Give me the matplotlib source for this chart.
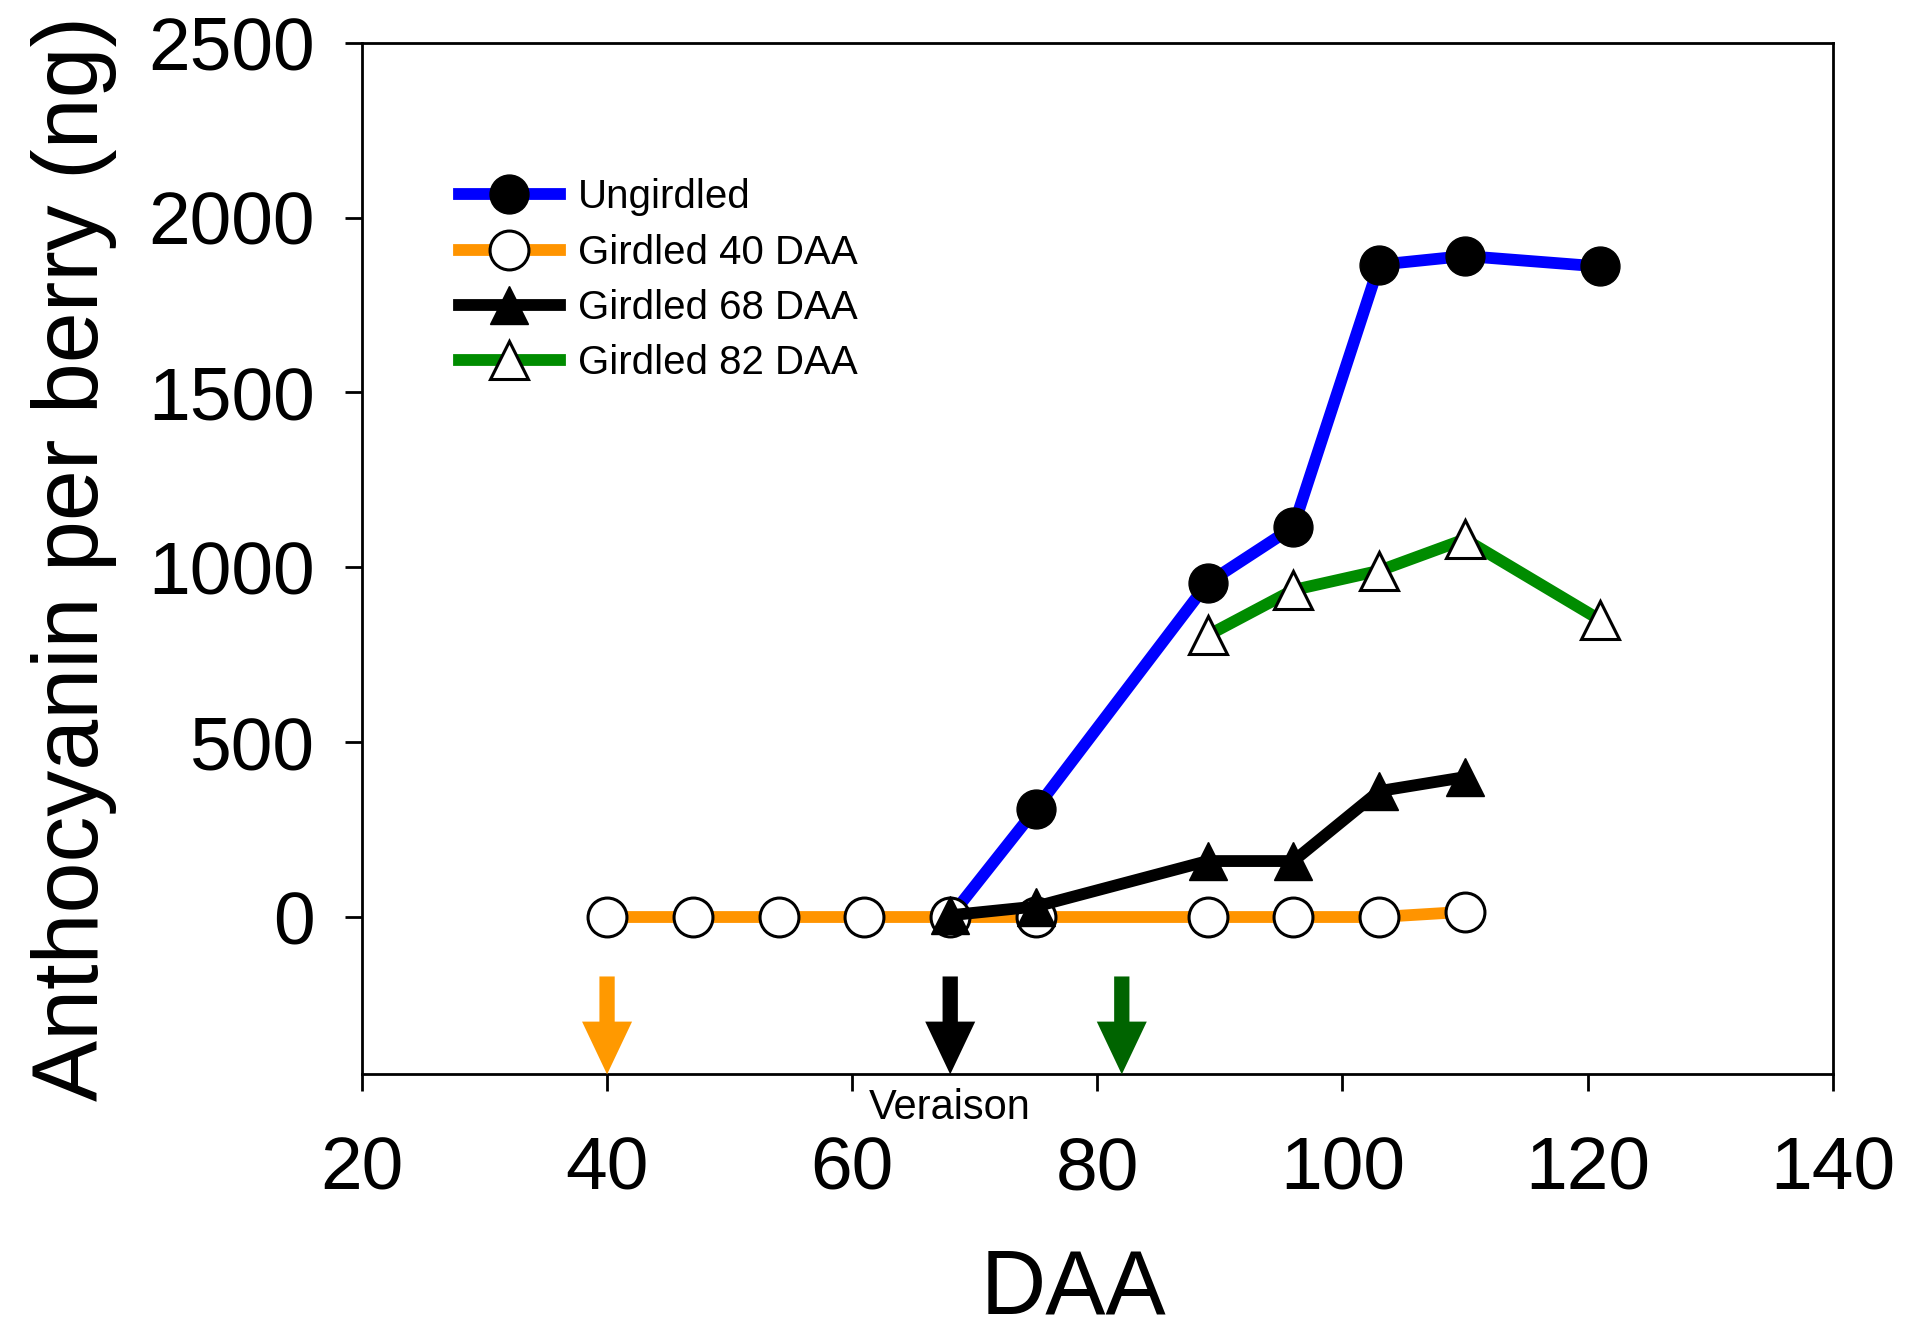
import numpy as np
import matplotlib
matplotlib.use('Agg')
import matplotlib.pyplot as plt

plt.rcParams['font.family'] = ['Liberation Sans', 'DejaVu Sans']

# Datos
daa_ung = [68, 75, 89, 96, 103, 110, 121]
ung = [0, 310, 955, 1115, 1865, 1890, 1860]

daa_g40 = [40, 47, 54, 61, 68, 75, 89, 96, 103, 110]
g40 = [0, 0, 0, 0, 0, 0, 0, 0, 0, 15]

daa_g68 = [68, 75, 89, 96, 103, 110]
g68 = [5, 30, 160, 160, 360, 400]

daa_g82 = [89, 96, 103, 110, 121]
g82 = [805, 935, 990, 1080, 850]

# fechas de anillado (flechas)
girdle_days = [40, 68, 82]
arrow_colors = ['#FF9900', 'black', '#006400']

fig = plt.figure(figsize=(19.05, 13.33), dpi=100)
ax = fig.add_axes([0.190, 0.194, 0.772, 0.774])

lw = 8.5
ms = 28
ax.plot(daa_ung, ung, '-o', color='blue', lw=lw, ms=ms, mfc='black', mec='black', label='Ungirdled')
ax.plot(daa_g40, g40, '-o', color='#FF9400', lw=lw, ms=ms, mfc='white', mec='black', mew=2.2, label='Girdled 40 DAA')
ax.plot(daa_g68, g68, '-^', color='black', lw=lw, ms=ms, mfc='black', mec='black', label='Girdled 68 DAA')
ax.plot(daa_g82, g82, '-^', color='#008C00', lw=lw, ms=ms, mfc='white', mec='black', mew=2.2, label='Girdled 82 DAA')

for d, c in zip(girdle_days, arrow_colors):
    ax.annotate('', xy=(d, -450), xytext=(d, -170),
                arrowprops=dict(width=11, headwidth=36, headlength=38, shrink=0,
                                facecolor=c, edgecolor='none'))

ax.text(68, -490, 'Veraison', ha='center', va='top', fontsize=30)

ax.set_xlim(20, 140)
ax.set_ylim(-450, 2500)
ax.set_xticks(np.arange(20, 141, 20))
ax.set_yticks(np.arange(0, 2501, 500))
ax.tick_params(labelsize=54, width=2, length=12, direction='out')
ax.tick_params(axis='x', pad=32)
ax.tick_params(axis='y', pad=22)
for s in ax.spines.values():
    s.set_linewidth(2)

ax.set_xlabel('DAA', fontsize=65, labelpad=31)
ax.xaxis.label.set_x(0.484)
ax.set_ylabel('Anthocyanin per berry (ng)', fontsize=66, labelpad=22)

ax.legend(loc='upper left', bbox_to_anchor=(0.055, 0.884), frameon=False, fontsize=29,
          handlelength=2.5, handletextpad=0.45, labelspacing=0.43, markerscale=1.0,
          borderaxespad=0)

plt.savefig('out.png', dpi=100)
